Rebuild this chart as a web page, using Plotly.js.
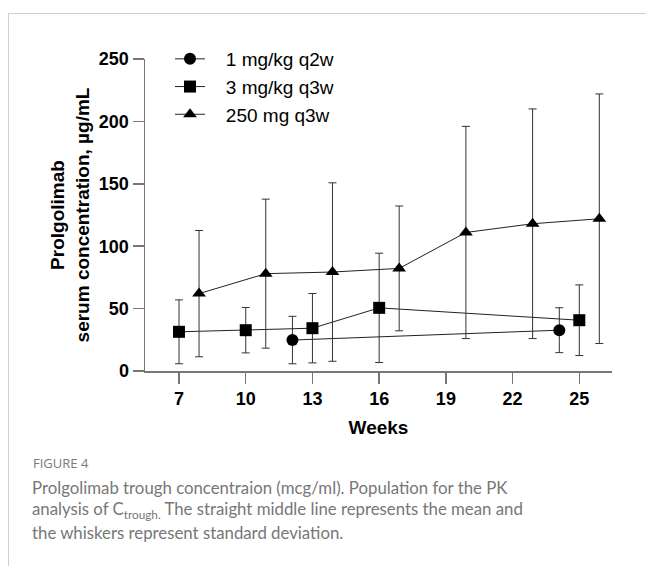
<!DOCTYPE html>
<html><head><meta charset="utf-8">
<script src="https://cdn.plot.ly/plotly-3.0.1.min.js"></script>
<style>
html,body{margin:0;padding:0;background:#fff;overflow:hidden;}
#frame{position:absolute;left:8px;top:13px;width:660px;height:580px;border-top:1px solid #cfcfcf;border-left:1px solid #cfcfcf;}
#chart{position:absolute;left:0;top:0;width:646px;height:566px;}
</style></head><body>
<div id="frame"></div><div id="chart"></div>
<script>
// ---- data ----
var seriesNames = ['1 mg/kg q2w', '3 mg/kg q3w', '250 mg q3w'];
var weeks1 = [12.1, 24.1];
var mean1  = [24.8, 32.7];
var sd1    = [19, 18];
var weeks3 = [7, 10, 13, 16, 25];
var mean3  = [31.4, 32.7, 34.3, 50.6, 40.7];
var sd3    = [25.6, 18.2, 27.8, 43.8, 28.3];
var weeks250 = [7.9, 10.9, 13.9, 16.9, 19.9, 22.9, 25.9];
var mean250  = [62, 78, 79.3, 82.2, 111, 118, 122];
var sd250    = [50.6, 59.7, 71.5, 50, 85, 92, 100];
var xTicks = [7, 10, 13, 16, 19, 22, 25];
var yTicks = [0, 50, 100, 150, 200, 250];
var captionLabel = 'FIGURE 4';
var captionLines = [
  'Prolgolimab trough concentraion (mcg/ml). Population for the PK',
  'analysis of C<sub>trough.</sub> The straight middle line represents the mean and',
  'the whiskers represent standard deviation.'
];

// ---- layout helpers ----
var W = 646, H = 566, ML = 145, MR = 34, MT = 59, MB = 195;
var PW = W - ML - MR, PH = H - MT - MB;
function ax(px){ return (px - ML) / PW; }
function ay(py){ return (H - MB - py) / PH; }
var pad = '\u00a0\u00a0\u00a0';
var FONT = 'Liberation Sans, Arial, sans-serif';

function mk(name, x, y, sd, sym, grp){
  return {
    type: 'scatter', mode: 'lines+markers', name: pad + name, legendgroup: grp,
    x: x, y: y,
    line: {color: '#222', width: 1},
    marker: {symbol: sym, size: 12, color: '#000'},
    error_y: {type: 'data', array: sd, visible: true, color: '#333', thickness: 1, width: 4},
    cliponaxis: false
  };
}
var data = [
  mk(seriesNames[0], weeks1, mean1, sd1, 'circle', 'a'),
  mk(seriesNames[1], weeks3, mean3, sd3, 'square', 'b'),
  mk(seriesNames[2], weeks250, mean250, sd250, 'triangle-up', 'c')
];

var annotations = [{
  text: captionLabel, xref: 'paper', yref: 'paper', x: ax(31), y: ay(463),
  xanchor: 'left', yanchor: 'middle', showarrow: false,
  font: {family: 'Open Sans, sans-serif', size: 13, color: '#7a7a7a'}
}];
var capY = [487, 510, 532];
captionLines.forEach(function(t, i){
  annotations.push({
    text: t, xref: 'paper', yref: 'paper', x: ax(30), y: ay(capY[i]),
    xanchor: 'left', yanchor: 'middle', showarrow: false, align: 'left',
    font: {family: 'Lato, sans-serif', size: 16.8, color: '#777'}
  });
});

var layout = {
  width: W, height: H,
  margin: {l: ML, r: MR, t: MT, b: MB, pad: 0},
  paper_bgcolor: 'rgba(0,0,0,0)', plot_bgcolor: 'rgba(0,0,0,0)',
  showlegend: true,
  legend: {
    x: ax(170), y: ay(40), xanchor: 'left', yanchor: 'top',
    font: {family: FONT, size: 19, color: '#000'},
    bgcolor: 'rgba(0,0,0,0)', tracegroupgap: 0, itemwidth: 30
  },
  xaxis: {
    range: [5.47, 26.47], tickvals: xTicks, ticktext: xTicks.map(String),
    ticks: 'outside', ticklen: 11, tickwidth: 1.5, tickcolor: '#777',
    showline: true, linecolor: '#777', linewidth: 1.5,
    showgrid: false, zeroline: false,
    tickfont: {family: FONT, size: 18, color: '#000', weight: 'bold'},
    title: {text: 'Weeks', font: {family: FONT, size: 19, color: '#000', weight: 'bold'}, standoff: 12}
  },
  yaxis: {
    range: [0, 250], tickvals: yTicks, ticktext: yTicks.map(String),
    ticks: 'outside', ticklen: 11, tickwidth: 1.5, tickcolor: '#777',
    showline: true, linecolor: '#777', linewidth: 1.5,
    showgrid: false, zeroline: false,
    tickfont: {family: FONT, size: 18, color: '#000', weight: 'bold'},
    title: {text: 'Prolgolimab<br>serum concentration, µg/mL', font: {family: FONT, size: 19, color: '#000', weight: 'bold'}, standoff: 4}
  },
  annotations: annotations
};
Plotly.newPlot('chart', data, layout, {displayModeBar: false, staticPlot: true});
</script>
</body></html>
